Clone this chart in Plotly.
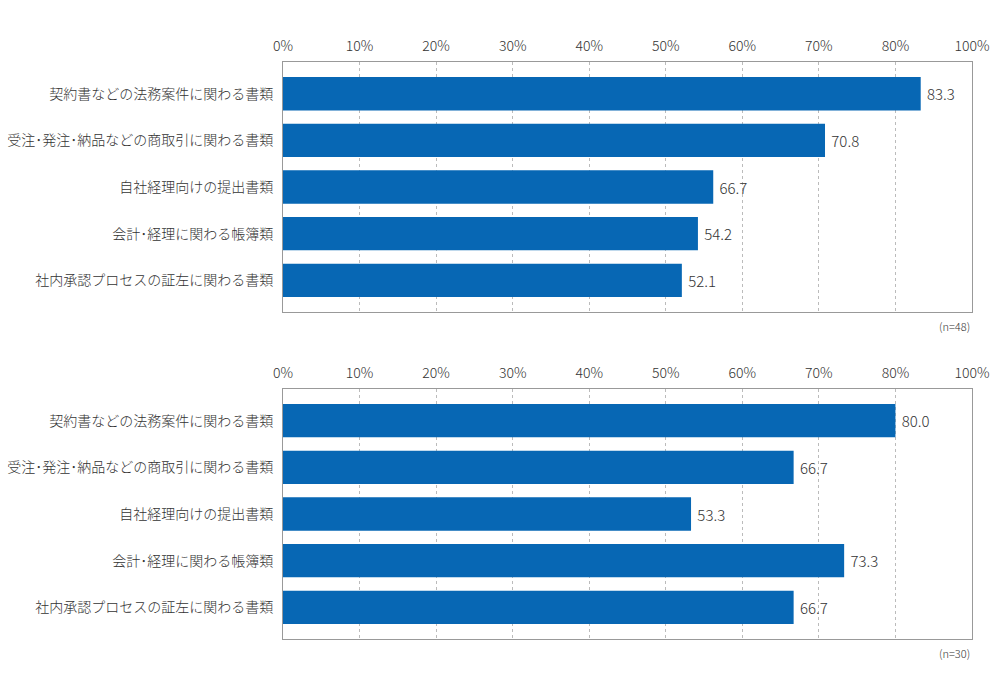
import plotly.graph_objects as go
from plotly.subplots import make_subplots

categories = [
    "契約書などの法務案件に関わる書類",
    "受注･発注･納品などの商取引に関わる書類",
    "自社経理向けの提出書類",
    "会計･経理に関わる帳簿類",
    "社内承認プロセスの証左に関わる書類",
]

# upper chart: printed labels; bar lengths as drawn (3rd bar is drawn shorter than its label)
top_labels = ["83.3", "70.8", "66.7", "54.2", "52.1"]
top_bars = [83.3, 70.8, 56.2, 54.2, 52.1]
top_n = "(n=48)"

bottom_labels = ["80.0", "66.7", "53.3", "73.3", "66.7"]
bottom_bars = [80.0, 66.7, 53.3, 73.3, 66.7]
bottom_n = "(n=30)"

tick_vals = [0, 10, 20, 30, 40, 50, 60, 70, 80, 90]
tick_text = ["0%", "10%", "20%", "30%", "40%", "50%", "60%", "70%", "80%", "100%"]

BLUE = "#0767b4"
FONT = "Noto Sans CJK JP"
TXT = "#333333"

fig = make_subplots(rows=2, cols=1)

for row, (bars, labels) in enumerate([(top_bars, top_labels), (bottom_bars, bottom_labels)], start=1):
    fig.add_trace(go.Bar(
        x=bars, y=categories, orientation="h",
        width=0.714,
        marker=dict(color=BLUE, line=dict(width=0)),
        text=labels, texttemplate="\u00a0%{text}", textposition="outside",
        textfont=dict(family=FONT, size=15, color=TXT, weight=300),
        cliponaxis=False,
        showlegend=False,
        hoverinfo="skip",
    ), row=row, col=1)

fig.update_xaxes(
    range=[0, 90], side="top",
    tickmode="array", tickvals=tick_vals, ticktext=tick_text,
    tickfont=dict(family=FONT, size=14, color=TXT, weight=300),
    ticks="", ticklabelstandoff=4,
    showgrid=True, gridcolor="#bbbbbb", griddash="dot", gridwidth=1,
    showline=True, linecolor="#999999", linewidth=1, mirror=True,
    zeroline=False, fixedrange=True, automargin=False,
)
fig.update_yaxes(
    range=[4.68, -0.68],
    tickfont=dict(family=FONT, size=14, color=TXT, weight=300),
    ticks="", ticklabelstandoff=6,
    showgrid=False,
    showline=True, linecolor="#999999", linewidth=1, mirror=True,
    fixedrange=True, automargin=False,
)

fig.update_layout(
    width=1000, height=700,
    margin=dict(l=283, r=28, t=0, b=0, autoexpand=False),
    paper_bgcolor="white", plot_bgcolor="white",
    font=dict(family=FONT, color=TXT),
    xaxis=dict(domain=[0, 1]),
    yaxis=dict(domain=[0.5543, 0.9114]),
    xaxis2=dict(domain=[0, 1]),
    yaxis2=dict(domain=[0.0871, 0.4443]),
    annotations=[
        dict(text=top_n, x=1, xref="paper", y=0.5543, yref="paper",
             xanchor="right", yanchor="top", yshift=-4, showarrow=False,
             font=dict(family=FONT, size=11, color=TXT, weight=300)),
        dict(text=bottom_n, x=1, xref="paper", y=0.0871, yref="paper",
             xanchor="right", yanchor="top", yshift=-4, showarrow=False,
             font=dict(family=FONT, size=11, color=TXT, weight=300)),
    ],
)

# drop the browser's default 8px body margin so the figure sits at the page corner
fig.write_html("out.html", config={"displayModeBar": False},
               post_script="document.body.style.margin = '0';")
